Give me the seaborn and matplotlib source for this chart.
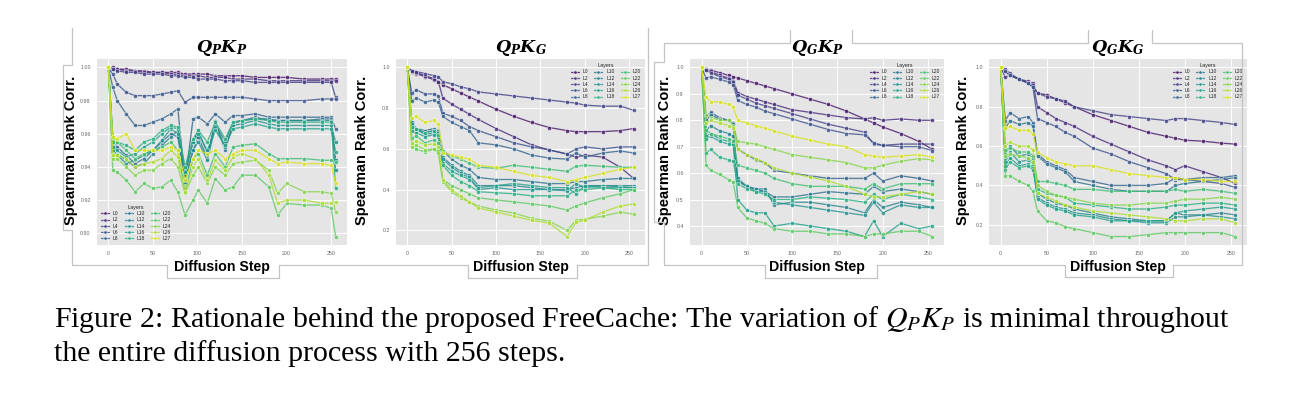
import numpy as np
import pandas as pd
import seaborn as sns
import matplotlib
matplotlib.use("Agg")
import matplotlib.pyplot as plt
from matplotlib.lines import Line2D

# ---------------- data ----------------
LAYERS = ["L0", "L2", "L4", "L6", "L8", "L10", "L12", "L14", "L16", "L18",
          "L20", "L22", "L24", "L26", "L27"]

STEPS_PP = [0, 5, 10, 20, 30, 40, 50, 60, 70, 78, 86, 95, 101, 111, 120, 131, 140,
            150, 165, 180, 190, 200, 220, 240, 250, 255]
STEPS_G = [0, 5, 10, 20, 30, 35, 40, 50, 60, 70, 80, 100, 120, 140, 160, 180, 190,
           200, 220, 240, 255]

QPKP = {
    "L0": [1.000,1.000,0.999,0.999,0.998,0.998,0.997,0.997,0.997,0.997,0.996,0.996,0.996,0.996,0.995,0.995,0.995,0.995,0.994,0.994,0.994,0.994,0.993,0.993,0.993,0.993],
    "L2": [1.000,0.999,0.999,0.998,0.998,0.997,0.997,0.997,0.996,0.996,0.995,0.995,0.995,0.994,0.994,0.994,0.993,0.993,0.993,0.992,0.992,0.992,0.992,0.992,0.992,0.992],
    "L4": [1.000,0.999,0.998,0.997,0.997,0.996,0.996,0.996,0.995,0.995,0.994,0.994,0.993,0.993,0.993,0.992,0.992,0.992,0.991,0.991,0.991,0.991,0.991,0.991,0.991,0.982],
    "L6": [1.000,0.996,0.990,0.985,0.983,0.983,0.983,0.984,0.985,0.986,0.979,0.982,0.982,0.982,0.982,0.982,0.982,0.982,0.981,0.980,0.980,0.980,0.980,0.981,0.981,0.981],
    "L8": [1.000,0.988,0.980,0.972,0.965,0.965,0.967,0.969,0.972,0.975,0.931,0.969,0.970,0.966,0.972,0.967,0.971,0.971,0.972,0.970,0.970,0.970,0.970,0.970,0.970,0.963],
    "L10": [1.000,0.958,0.952,0.947,0.942,0.945,0.950,0.955,0.960,0.958,0.931,0.950,0.958,0.945,0.968,0.950,0.966,0.968,0.970,0.968,0.968,0.968,0.968,0.969,0.969,0.944],
    "L12": [1.000,0.955,0.948,0.944,0.940,0.942,0.948,0.953,0.958,0.962,0.935,0.955,0.962,0.948,0.966,0.955,0.967,0.968,0.969,0.969,0.968,0.968,0.968,0.968,0.968,0.938],
    "L14": [1.000,0.950,0.947,0.942,0.944,0.947,0.950,0.956,0.963,0.960,0.933,0.950,0.955,0.944,0.964,0.952,0.965,0.966,0.968,0.966,0.965,0.965,0.965,0.965,0.965,0.955],
    "L16": [1.000,0.952,0.950,0.946,0.948,0.952,0.955,0.960,0.964,0.963,0.937,0.955,0.960,0.950,0.962,0.953,0.963,0.964,0.966,0.964,0.963,0.963,0.963,0.963,0.963,0.949],
    "L18": [1.000,0.957,0.955,0.953,0.950,0.955,0.957,0.962,0.965,0.964,0.940,0.957,0.962,0.955,0.967,0.957,0.967,0.968,0.969,0.968,0.967,0.967,0.967,0.967,0.967,0.927],
    "L20": [1.000,0.955,0.955,0.950,0.945,0.948,0.950,0.952,0.955,0.950,0.925,0.945,0.948,0.935,0.948,0.940,0.952,0.953,0.954,0.948,0.945,0.945,0.945,0.944,0.944,0.943],
    "L22": [1.000,0.938,0.937,0.932,0.925,0.930,0.927,0.928,0.932,0.925,0.911,0.920,0.926,0.918,0.933,0.926,0.928,0.935,0.935,0.928,0.911,0.918,0.917,0.917,0.915,0.898],
    "L24": [1.000,0.945,0.945,0.940,0.935,0.938,0.938,0.942,0.945,0.940,0.924,0.935,0.940,0.930,0.940,0.935,0.942,0.943,0.944,0.938,0.924,0.930,0.925,0.925,0.924,0.913],
    "L26": [1.000,0.947,0.947,0.945,0.940,0.942,0.943,0.945,0.950,0.946,0.925,0.940,0.945,0.932,0.944,0.938,0.946,0.948,0.945,0.935,0.918,0.920,0.920,0.918,0.918,0.919],
    "L27": [1.000,0.958,0.957,0.960,0.950,0.950,0.950,0.950,0.952,0.950,0.932,0.945,0.950,0.948,0.950,0.945,0.948,0.950,0.950,0.945,0.942,0.943,0.942,0.942,0.941,0.930],
}

QPKG = {
    "L0": [1.0,0.98,0.97,0.955,0.94,0.93,0.915,0.895,0.875,0.855,0.835,0.795,0.76,0.73,0.705,0.69,0.685,0.685,0.685,0.69,0.70],
    "L2": [1.0,0.985,0.975,0.96,0.945,0.93,0.85,0.82,0.795,0.77,0.745,0.70,0.66,0.62,0.595,0.575,0.56,0.57,0.56,0.51,0.455],
    "L4": [1.0,0.985,0.98,0.97,0.96,0.955,0.93,0.92,0.905,0.895,0.88,0.87,0.86,0.85,0.84,0.83,0.825,0.815,0.81,0.81,0.79],
    "L6": [1.0,0.875,0.89,0.87,0.87,0.86,0.775,0.76,0.74,0.71,0.69,0.66,0.63,0.61,0.595,0.575,0.60,0.61,0.60,0.61,0.61],
    "L8": [1.0,0.835,0.85,0.83,0.84,0.83,0.76,0.73,0.71,0.69,0.63,0.62,0.60,0.57,0.555,0.55,0.58,0.56,0.58,0.59,0.58],
    "L10": [1.0,0.73,0.70,0.69,0.70,0.69,0.59,0.55,0.52,0.50,0.46,0.45,0.45,0.44,0.43,0.43,0.44,0.44,0.45,0.455,0.455],
    "L12": [1.0,0.72,0.69,0.68,0.69,0.68,0.56,0.52,0.49,0.47,0.42,0.42,0.42,0.41,0.40,0.40,0.41,0.42,0.42,0.42,0.42],
    "L14": [1.0,0.70,0.70,0.67,0.68,0.67,0.55,0.51,0.48,0.46,0.40,0.41,0.40,0.40,0.40,0.395,0.43,0.41,0.42,0.415,0.41],
    "L16": [1.0,0.69,0.68,0.66,0.67,0.66,0.53,0.49,0.47,0.45,0.41,0.42,0.43,0.42,0.41,0.41,0.38,0.42,0.41,0.41,0.41],
    "L18": [1.0,0.71,0.70,0.68,0.69,0.67,0.52,0.47,0.44,0.42,0.39,0.385,0.38,0.37,0.37,0.37,0.40,0.40,0.41,0.40,0.40],
    "L20": [1.0,0.655,0.665,0.63,0.645,0.63,0.59,0.565,0.55,0.53,0.51,0.505,0.52,0.51,0.50,0.49,0.515,0.52,0.515,0.51,0.51],
    "L22": [1.0,0.625,0.60,0.585,0.60,0.59,0.45,0.42,0.40,0.38,0.36,0.35,0.34,0.33,0.32,0.30,0.32,0.335,0.36,0.38,0.40],
    "L24": [1.0,0.61,0.62,0.595,0.60,0.58,0.44,0.39,0.36,0.34,0.32,0.30,0.285,0.26,0.245,0.20,0.25,0.255,0.27,0.29,0.28],
    "L26": [1.0,0.63,0.64,0.62,0.625,0.61,0.45,0.40,0.37,0.34,0.31,0.29,0.27,0.25,0.235,0.17,0.24,0.25,0.29,0.32,0.33],
    "L27": [1.0,0.75,0.76,0.73,0.74,0.72,0.58,0.57,0.56,0.55,0.52,0.51,0.49,0.47,0.46,0.44,0.45,0.46,0.48,0.50,0.51],
}

QGKP = {
    "L0": [1.0,0.995,0.99,0.98,0.97,0.965,0.96,0.95,0.94,0.93,0.92,0.90,0.88,0.86,0.835,0.805,0.79,0.775,0.75,0.72,0.69],
    "L2": [1.0,0.99,0.985,0.97,0.96,0.95,0.905,0.89,0.88,0.87,0.86,0.84,0.83,0.82,0.81,0.805,0.81,0.80,0.805,0.80,0.80],
    "L4": [1.0,0.99,0.98,0.965,0.955,0.945,0.895,0.88,0.865,0.855,0.845,0.825,0.805,0.785,0.77,0.755,0.71,0.705,0.71,0.71,0.71],
    "L6": [1.0,0.96,0.965,0.955,0.945,0.935,0.875,0.86,0.85,0.835,0.825,0.805,0.785,0.765,0.75,0.745,0.715,0.705,0.70,0.70,0.685],
    "L8": [1.0,0.81,0.83,0.81,0.80,0.79,0.69,0.67,0.65,0.64,0.61,0.60,0.59,0.58,0.58,0.58,0.60,0.57,0.59,0.58,0.57],
    "L10": [1.0,0.80,0.82,0.805,0.80,0.785,0.57,0.55,0.54,0.53,0.51,0.51,0.52,0.53,0.525,0.52,0.55,0.53,0.54,0.53,0.52],
    "L12": [1.0,0.76,0.78,0.76,0.75,0.74,0.58,0.55,0.54,0.54,0.48,0.49,0.49,0.48,0.47,0.45,0.50,0.47,0.49,0.48,0.47],
    "L14": [1.0,0.74,0.75,0.73,0.72,0.71,0.57,0.55,0.53,0.53,0.49,0.48,0.47,0.46,0.45,0.44,0.49,0.45,0.48,0.47,0.47],
    "L16": [1.0,0.73,0.74,0.72,0.71,0.71,0.50,0.46,0.45,0.45,0.40,0.41,0.40,0.39,0.38,0.36,0.42,0.36,0.41,0.39,0.40],
    "L18": [1.0,0.675,0.69,0.66,0.65,0.645,0.56,0.54,0.53,0.52,0.50,0.50,0.51,0.505,0.50,0.49,0.52,0.50,0.52,0.51,0.50],
    "L20": [1.0,0.765,0.75,0.74,0.73,0.72,0.63,0.62,0.61,0.60,0.58,0.56,0.55,0.55,0.55,0.54,0.56,0.54,0.56,0.56,0.56],
    "L22": [1.0,0.63,0.61,0.595,0.575,0.565,0.47,0.43,0.42,0.41,0.39,0.38,0.38,0.37,0.37,0.36,0.37,0.37,0.38,0.38,0.36],
    "L24": [1.0,0.82,0.81,0.80,0.80,0.78,0.72,0.715,0.71,0.70,0.69,0.67,0.66,0.65,0.64,0.62,0.62,0.63,0.645,0.655,0.65],
    "L26": [1.0,0.79,0.80,0.79,0.78,0.77,0.69,0.67,0.655,0.64,0.62,0.60,0.585,0.57,0.55,0.52,0.51,0.51,0.52,0.53,0.52],
    "L27": [1.0,0.89,0.87,0.87,0.86,0.85,0.80,0.79,0.78,0.77,0.76,0.74,0.725,0.71,0.70,0.67,0.665,0.66,0.665,0.67,0.66],
}

QGKG = {
    "L0": [1.0,0.98,0.96,0.94,0.92,0.90,0.87,0.86,0.84,0.82,0.80,0.76,0.73,0.70,0.67,0.65,0.64,0.63,0.625,0.615,0.61],
    "L2": [1.0,0.95,0.96,0.94,0.93,0.92,0.80,0.77,0.74,0.72,0.70,0.65,0.61,0.57,0.53,0.50,0.48,0.50,0.47,0.44,0.41],
    "L4": [1.0,0.99,0.97,0.94,0.92,0.91,0.87,0.85,0.84,0.83,0.80,0.78,0.76,0.75,0.74,0.73,0.74,0.74,0.73,0.72,0.71],
    "L6": [1.0,0.98,0.96,0.94,0.92,0.90,0.74,0.72,0.70,0.67,0.65,0.59,0.56,0.52,0.49,0.46,0.43,0.43,0.42,0.41,0.39],
    "L8": [1.0,0.73,0.77,0.74,0.75,0.72,0.56,0.52,0.50,0.48,0.44,0.42,0.40,0.40,0.40,0.41,0.44,0.43,0.44,0.44,0.45],
    "L10": [1.0,0.69,0.73,0.71,0.72,0.70,0.55,0.51,0.49,0.47,0.42,0.40,0.38,0.37,0.37,0.37,0.40,0.41,0.42,0.43,0.44],
    "L12": [1.0,0.56,0.60,0.55,0.56,0.54,0.36,0.33,0.31,0.30,0.28,0.26,0.24,0.23,0.22,0.22,0.26,0.25,0.25,0.26,0.25],
    "L14": [1.0,0.52,0.57,0.52,0.53,0.51,0.34,0.31,0.29,0.28,0.26,0.25,0.23,0.22,0.21,0.21,0.24,0.24,0.25,0.24,0.23],
    "L16": [1.0,0.50,0.54,0.50,0.51,0.49,0.33,0.30,0.28,0.27,0.25,0.24,0.22,0.22,0.22,0.22,0.26,0.27,0.28,0.29,0.28],
    "L18": [1.0,0.48,0.52,0.49,0.50,0.48,0.38,0.36,0.35,0.34,0.31,0.30,0.29,0.28,0.28,0.29,0.30,0.30,0.31,0.31,0.30],
    "L20": [1.0,0.58,0.59,0.57,0.57,0.55,0.42,0.42,0.41,0.40,0.38,0.38,0.37,0.37,0.37,0.37,0.38,0.37,0.38,0.37,0.36],
    "L22": [1.0,0.45,0.45,0.42,0.40,0.37,0.27,0.22,0.21,0.19,0.18,0.16,0.14,0.14,0.15,0.16,0.16,0.16,0.16,0.16,0.14],
    "L24": [1.0,0.55,0.56,0.55,0.54,0.52,0.40,0.37,0.35,0.34,0.33,0.31,0.30,0.30,0.31,0.31,0.32,0.33,0.33,0.34,0.33],
    "L26": [1.0,0.60,0.62,0.60,0.60,0.58,0.36,0.34,0.32,0.30,0.29,0.27,0.26,0.25,0.24,0.23,0.22,0.22,0.23,0.23,0.21],
    "L27": [1.0,0.69,0.70,0.68,0.68,0.66,0.57,0.54,0.52,0.51,0.50,0.50,0.48,0.46,0.45,0.44,0.44,0.43,0.43,0.42,0.42],
}

TITLES = [r"$\mathbfit{Q_PK_P}$", r"$\mathbfit{Q_PK_G}$",
          r"$\mathbfit{Q_GK_P}$", r"$\mathbfit{Q_GK_G}$"]
YTICKS = [[0.90, 0.92, 0.94, 0.96, 0.98, 1.00],
          [0.2, 0.4, 0.6, 0.8, 1.0],
          [0.4, 0.5, 0.6, 0.7, 0.8, 0.9, 1.0],
          [0.2, 0.4, 0.6, 0.8, 1.0]]
XTICKS = [0, 50, 100, 150, 200, 250]
CAPTION_1 = r"Figure 2: Rationale behind the proposed FreeCache: The variation of $Q_PK_P$ is minimal throughout"
CAPTION_2 = "the entire diffusion process with 256 steps."

# ---------------- style ----------------
sns.set_theme(style="darkgrid")
plt.rcParams.update({
    "axes.facecolor": "#E5E5E5",
    "grid.color": "white",
    "grid.linewidth": 0.7,
    "mathtext.fontset": "stix",
    "axes.edgecolor": "#E5E5E5",
})
plt.rcParams["font.family"] = ["Liberation Sans", "DejaVu Sans"]

W, H = 1302, 397
fig = plt.figure(figsize=(W / 100, H / 100), dpi=100)

def fx(px):
    return px / W

def fy(py):
    return 1 - py / H

AX_PX = [(97, 347), (396, 645), (690, 944), (989, 1247)]
AX_TOP, AX_BOT = 59, 245
YLAB_X = [71, 362, 665, 963]
LEG_LOC = ["lower left", "upper right", "upper right", "upper right"]

panels = [(STEPS_PP, QPKP), (STEPS_G, QPKG), (STEPS_G, QGKP), (STEPS_G, QGKG)]
palette = sns.color_palette("viridis", len(LAYERS))

for i, (steps, series) in enumerate(panels):
    x0, x1 = AX_PX[i]
    ax = fig.add_axes([fx(x0), fy(AX_BOT), (x1 - x0) / W, (AX_BOT - AX_TOP) / H])
    rows = []
    for lay in LAYERS:
        vals = series[lay]
        assert len(vals) == len(steps), (i, lay, len(vals))
        for s, v in zip(steps, vals):
            rows.append({"step": s, "corr": v, "layer": lay})
    df = pd.DataFrame(rows)
    sns.lineplot(data=df, x="step", y="corr", hue="layer", hue_order=LAYERS,
                 palette=palette, marker="o", markersize=3.0, markeredgewidth=0.4,
                 linewidth=0.95, alpha=0.8, ax=ax)
    ax.set_xticks(XTICKS)
    ax.set_yticks(YTICKS[i])
    if i == 0:
        ax.set_yticklabels([f"{t:.2f}" for t in YTICKS[i]])
    else:
        ax.set_yticklabels([f"{t:.1f}" for t in YTICKS[i]])
    ax.tick_params(axis="both", labelsize=3.8, colors="#666666", length=1.5, pad=3)
    for sp in ax.spines.values():
        sp.set_visible(False)
    ax.set_title(TITLES[i], fontsize=12.5, pad=5, math_fontfamily="dejavuserif",
                 color="black")
    ax.set_ylabel("Spearman Rank Corr.", fontsize=10.5, fontweight="bold",
                  color="black", va="center")
    ax.yaxis.set_label_coords(fx(YLAB_X[i]), fy(150), transform=fig.transFigure)
    ax.set_xlabel("Diffusion Step", fontsize=10.2, fontweight="bold",
                  color="black", va="center")
    ax.xaxis.set_label_coords(fx((x0 + x1) / 2), fy(267), transform=fig.transFigure)
    sns.move_legend(ax, LEG_LOC[i], title="Layers", ncol=3, fontsize=3.6,
                    title_fontsize=4.0, frameon=False, handlelength=1.6,
                    columnspacing=1.2, labelspacing=0.25, borderaxespad=0.4,
                    markerscale=0.8)

# collage frame lines
FRAME_A = [(72, 28), (72, 65), (63, 65), (63, 230), (72, 230), (72, 265), (167, 265),
           (167, 278), (279, 278), (279, 265), (468, 265), (468, 278), (577, 278),
           (577, 265), (648, 265), (648, 28)]
FRAME_B = [(790, 30), (790, 43), (664, 43), (664, 62), (654, 62), (654, 222),
           (664, 222), (664, 265), (765, 265), (765, 278), (877, 278), (877, 265),
           (1065, 265), (1065, 277), (1173, 277), (1173, 265), (1242, 265),
           (1242, 43), (1152, 43), (1152, 30)]
FRAME_C = [(852, 30), (852, 43), (1088, 43), (1088, 30)]
for fr in (FRAME_A, FRAME_B, FRAME_C):
    xs = [fx(p[0]) for p in fr]
    ys = [fy(p[1]) for p in fr]
    fig.add_artist(Line2D(xs, ys, transform=fig.transFigure, color="#c4c4c4",
                          linewidth=0.9))

fig.text(fx(54), fy(327), CAPTION_1, fontsize=21.5, family="Liberation Serif",
         va="baseline", ha="left", color="black")
fig.text(fx(54), fy(361), CAPTION_2, fontsize=21.5, family="Liberation Serif",
         va="baseline", ha="left", color="black")

fig.savefig("out.png", dpi=100, facecolor="white")
